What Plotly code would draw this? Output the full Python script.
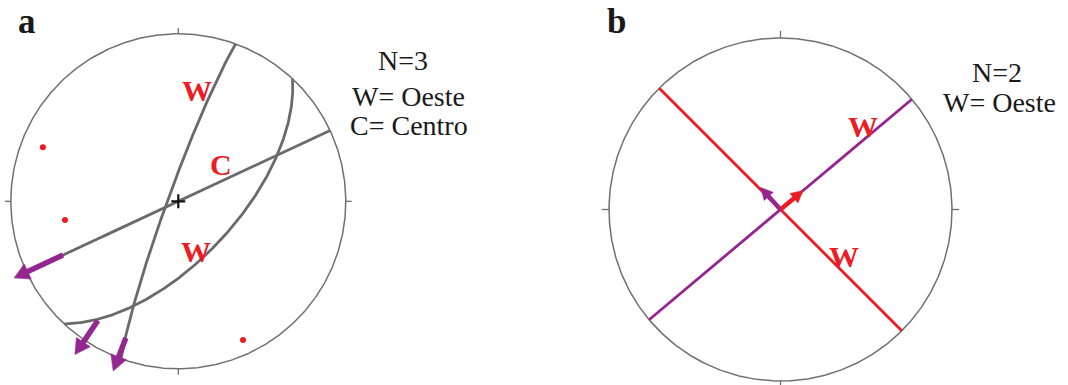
import numpy as np
import plotly.graph_objects as go

# ---------------- data ----------------
# Panel a: fault planes (right-hand-rule strike / dip, degrees)
A_STRIKE = [200, 43, 65]
A_DIP = [85, 62, 90]
A_PLANE_LABEL = ["W", "W", "C"]
A_LABEL_X = [0.113, 0.105, 0.254]
A_LABEL_Y = [0.660, -0.301, 0.217]
# slip lineations (trend / plunge) drawn as arrows pointing along the trend
A_LIN_TREND = [201.0, 214.0, 245.0]
A_LIN_PLUNGE = [13.6, 15.2, 25.0]
A_ARROW_LEN = [0.21, 0.245, 0.322]
# red points (trend / plunge)
A_PT_TREND = [291.8, 260.6, 155.0]
A_PT_PLUNGE = [14.0, 32.0, 9.5]
A_TEXT = ["N=3", "W= Oeste", "C= Centro"]

# Panel b: fault planes
B_STRIKE = [315, 50]
B_DIP = [90, 90]
B_PLANE_LABEL = ["W", "W"]
B_LABEL_X = [0.370, 0.483]
B_LABEL_Y = [-0.275, 0.483]
B_LIN_TREND = [318.0, 50.0]
B_LIN_PLUNGE = [89.8, 89.8]
B_ARROW_LEN = [0.17, 0.17]
B_TEXT = ["N=2", "W= Oeste"]

# ---------------- styles ----------------
GRAY = "#6a6a6c"
PRIM = "#707070"
RED = "#ed1c24"
PURPLE = "#93278f"
W, H = 1068, 385
SERIF = "Liberation Serif, Times New Roman, serif"


def project(v):
    """Lower-hemisphere equal-area (Schmidt) projection of a unit vector (E, N, Down)."""
    v = np.asarray(v, dtype=float)
    if v[2] < 0:
        v = -v
    plunge = np.arcsin(np.clip(v[2], -1, 1))
    trend = np.arctan2(v[0], v[1])
    r = np.sqrt(2) * np.sin((np.pi / 2 - plunge) / 2)
    return np.array([r * np.sin(trend), r * np.cos(trend)])


def plane_vec(strike, dip, rake):
    s, d, k = np.radians([strike, dip, rake])
    dd = s + np.pi / 2
    sv = np.array([np.sin(s), np.cos(s), 0.0])
    dv = np.array([np.sin(dd) * np.cos(d), np.cos(dd) * np.cos(d), np.sin(d)])
    return np.cos(k) * sv + np.sin(k) * dv


def great_circle(strike, dip):
    pts = np.array([project(plane_vec(strike, dip, k)) for k in np.linspace(0, 180, 361)])
    return pts[:, 0], pts[:, 1]


def line_xy(trend, plunge):
    t, p = np.radians(trend), np.radians(plunge)
    return project([np.cos(p) * np.sin(t), np.cos(p) * np.cos(t), np.sin(p)])


def arrow_traces(trend, plunge, length, head_len, head_w, width, color, xa, ya):
    tail = line_xy(trend, plunge)
    t = np.radians(trend)
    u = np.array([np.sin(t), np.cos(t)])
    n = np.array([-u[1], u[0]])
    tip = tail + u * length
    base = tip - u * head_len
    shaft_end = tip - u * head_len * 0.8
    shaft = go.Scatter(x=[tail[0], shaft_end[0]], y=[tail[1], shaft_end[1]], mode="lines",
                       line=dict(color=color, width=width), xaxis=xa, yaxis=ya,
                       hoverinfo="skip", showlegend=False)
    c1, c2 = base + n * head_w, base - n * head_w
    head = go.Scatter(x=[tip[0], c1[0], c2[0], tip[0]], y=[tip[1], c1[1], c2[1], tip[1]],
                      mode="lines", fill="toself", fillcolor=color, line=dict(width=0.5, color=color),
                      xaxis=xa, yaxis=ya, hoverinfo="skip", showlegend=False)
    return [shaft, head]


def net_frame(xa, ya, tick):
    t = np.linspace(0, 2 * np.pi, 721)
    out = [go.Scatter(x=np.sin(t), y=np.cos(t), mode="lines", line=dict(color=PRIM, width=1.5),
                      xaxis=xa, yaxis=ya, hoverinfo="skip", showlegend=False)]
    tx, ty = [], []
    for a in (0, 90, 180, 270):
        s, c = np.sin(np.radians(a)), np.cos(np.radians(a))
        tx += [s, s * (1 + tick), None]
        ty += [c, c * (1 + tick), None]
    out.append(go.Scatter(x=tx, y=ty, mode="lines", line=dict(color=PRIM, width=1.3),
                          xaxis=xa, yaxis=ya, hoverinfo="skip", showlegend=False))
    return out


fig = go.Figure()

# ---- panel a ----
RA, CXA, CYA = 167.5, 178.3, 201.3
for tr in net_frame("x", "y", 0.035):
    fig.add_trace(tr)
for st, dp in zip(A_STRIKE, A_DIP):
    gx, gy = great_circle(st, dp)
    fig.add_trace(go.Scatter(x=gx, y=gy, mode="lines", line=dict(color=GRAY, width=2.8),
                             xaxis="x", yaxis="y", hoverinfo="skip", showlegend=False))
for tr_, pl_, ln in zip(A_LIN_TREND, A_LIN_PLUNGE, A_ARROW_LEN):
    for tr in arrow_traces(tr_, pl_, ln, 0.09, 0.05, 5.5, PURPLE, "x", "y"):
        fig.add_trace(tr)
pts = np.array([line_xy(t, p) for t, p in zip(A_PT_TREND, A_PT_PLUNGE)])
fig.add_trace(go.Scatter(x=pts[:, 0], y=pts[:, 1], mode="markers",
                         marker=dict(color=RED, size=6), xaxis="x", yaxis="y",
                         hoverinfo="skip", showlegend=False))
fig.add_trace(go.Scatter(x=[0], y=[0], mode="markers",
                         marker=dict(symbol="cross-thin", size=10, line=dict(color="#111111", width=2.2)),
                         xaxis="x", yaxis="y", hoverinfo="skip", showlegend=False))

# ---- panel b ----
RB, CXB, CYB = 171.5, 780.5, 209.5
for tr in net_frame("x2", "y2", 0.042):
    fig.add_trace(tr)
for st, dp, col in zip(B_STRIKE, B_DIP, [RED, PURPLE]):
    gx, gy = great_circle(st, dp)
    fig.add_trace(go.Scatter(x=gx, y=gy, mode="lines", line=dict(color=col, width=2.8),
                             xaxis="x2", yaxis="y2", hoverinfo="skip", showlegend=False))
for tr_, pl_, ln, col in zip(B_LIN_TREND, B_LIN_PLUNGE, B_ARROW_LEN, [PURPLE, RED]):
    for tr in arrow_traces(tr_, pl_, ln, 0.07, 0.036, 4.5, col, "x2", "y2"):
        fig.add_trace(tr)

annotations = []
for lx, ly, t in zip(A_LABEL_X, A_LABEL_Y, A_PLANE_LABEL):
    annotations.append(dict(x=lx, y=ly, xref="x", yref="y", text=f"<b>{t}</b>", showarrow=False,
                            font=dict(family=SERIF, size=30, color=RED)))
for lx, ly, t in zip(B_LABEL_X, B_LABEL_Y, B_PLANE_LABEL):
    annotations.append(dict(x=lx, y=ly, xref="x2", yref="y2", text=f"<b>{t}</b>", showarrow=False,
                            font=dict(family=SERIF, size=30, color=RED)))


# legend-style notes and panel letters (pixel placement converted to paper units)
def paper(px, py):
    return px / W, 1 - py / H


for t, (px, py) in zip(A_TEXT, [(403, 60), (408.5, 97), (409, 125.4)]):
    x, y = paper(px, py)
    annotations.append(dict(x=x, y=y, xref="paper", yref="paper", text=t, showarrow=False,
                            xanchor="center", yanchor="middle",
                            font=dict(family=SERIF, size=28, color="#1a1a1a")))
for t, (px, py) in zip(B_TEXT, [(996.7, 72.5), (999, 102.5)]):
    x, y = paper(px, py)
    annotations.append(dict(x=x, y=y, xref="paper", yref="paper", text=t, showarrow=False,
                            xanchor="center", yanchor="middle",
                            font=dict(family=SERIF, size=28, color="#1a1a1a")))
for t, (px, py) in zip(["a", "b"], [(26.5, 21.7), (616, 21.5)]):
    x, y = paper(px, py)
    annotations.append(dict(x=x, y=y, xref="paper", yref="paper", text=f"<b>{t}</b>", showarrow=False,
                            xanchor="center", yanchor="middle",
                            font=dict(family=SERIF, size=35, color="#1a1a1a")))


def axis_pair(x0, x1, cx, cy, r):
    xr = [(x0 - cx) / r, (x1 - cx) / r]
    yr = [(cy - H) / r, cy / r]
    common = dict(visible=False, showgrid=False, zeroline=False, fixedrange=True)
    return dict(range=xr, domain=[x0 / W, x1 / W], **common), dict(range=yr, domain=[0, 1], **common)


xa, ya = axis_pair(0, 360, CXA, CYA, RA)
xb, yb = axis_pair(590, 970, CXB, CYB, RB)
ya["anchor"] = "x"
xa["anchor"] = "y"
xb["anchor"] = "y2"
yb["anchor"] = "x2"

fig.update_layout(width=W, height=H, margin=dict(l=0, r=0, t=0, b=0),
                  paper_bgcolor="white", plot_bgcolor="white",
                  xaxis=xa, yaxis=ya, xaxis2=xb, yaxis2=yb,
                  annotations=annotations, showlegend=False)

fig.write_html("out.html")
